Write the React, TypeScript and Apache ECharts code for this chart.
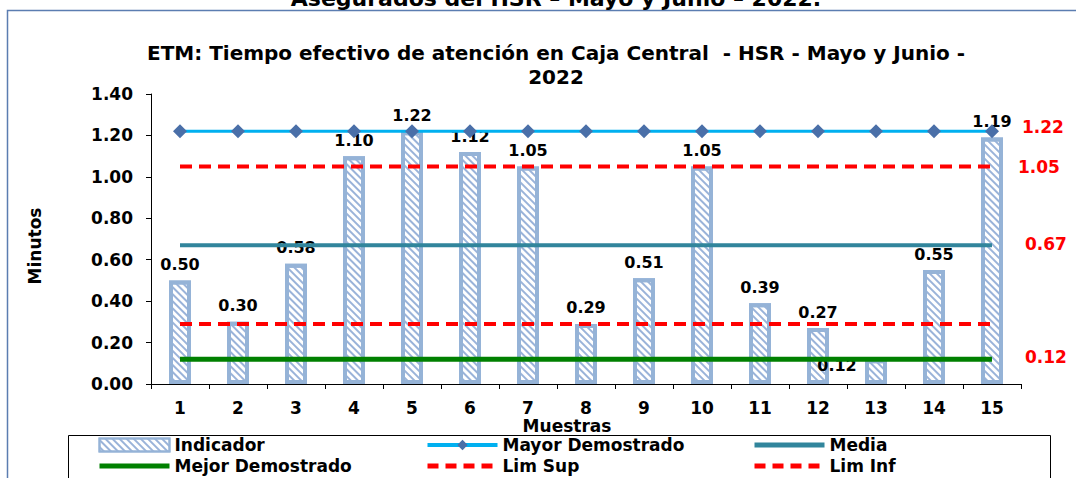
import React, { useEffect, useRef } from "react";
import * as echarts from "echarts";

const categories = ["1", "2", "3", "4", "5", "6", "7", "8", "9", "10", "11", "12", "13", "14", "15"];
const indicador = [0.5, 0.3, 0.58, 1.1, 1.22, 1.12, 1.05, 0.29, 0.51, 1.05, 0.39, 0.27, 0.12, 0.55, 1.19];
const mayorDemostrado = [1.22, 1.22, 1.22, 1.22, 1.22, 1.22, 1.22, 1.22, 1.22, 1.22, 1.22, 1.22, 1.22, 1.22, 1.22];
const media = [0.67, 0.67, 0.67, 0.67, 0.67, 0.67, 0.67, 0.67, 0.67, 0.67, 0.67, 0.67, 0.67, 0.67, 0.67];
const mejorDemostrado = [0.12, 0.12, 0.12, 0.12, 0.12, 0.12, 0.12, 0.12, 0.12, 0.12, 0.12, 0.12, 0.12, 0.12, 0.12];
const limSup = [1.05, 1.05, 1.05, 1.05, 1.05, 1.05, 1.05, 1.05, 1.05, 1.05, 1.05, 1.05, 1.05, 1.05, 1.05];
const limInf = [0.29, 0.29, 0.29, 0.29, 0.29, 0.29, 0.29, 0.29, 0.29, 0.29, 0.29, 0.29, 0.29, 0.29, 0.29];
const yMin = 0;
const yMax = 1.4;
const yInterval = 0.2;

const topTitle = "Asegurados del HSR – Mayo y Junio – 2022.";
const chartTitle = "ETM: Tiempo efectivo de atención en Caja Central  - HSR - Mayo y Junio -\n2022";
const xName = "Muestras";
const yName = "Minutos";

const F = "DejaVu Sans";

export default function App() {
  const ref = useRef<HTMLDivElement>(null);
  useEffect(() => {
    const chart = echarts.init(ref.current!, null, { renderer: "svg" });
    const endLbl = (dist: number, dy: number) => ({
      show: true,
      formatter: (p: any) => Number(p.value).toFixed(2),
      color: "#FF0000",
      fontFamily: F,
      fontWeight: "bold",
      fontSize: 17,
      distance: dist,
      offset: [0, dy],
    });
    const legendBase = {
      top: 435,
      height: 50,
      padding: 0,
      orient: "vertical",
      itemWidth: 70,
      itemHeight: 13,
      itemGap: 1,
      textStyle: { fontFamily: F, fontWeight: "bold", fontSize: 17, color: "#000", lineHeight: 20 },
    };
    const solidLeg = (name: string, color: string) => ({
      name,
      itemStyle: { opacity: 0 },
      lineStyle: { color, width: 5, type: "solid" },
    });
    const dashLeg = (name: string) => ({
      name,
      itemStyle: { opacity: 0 },
      lineStyle: { color: "#FF0000", width: 5, type: [11, 7] },
    });
    chart.setOption({
      animation: false,
      backgroundColor: "#FFFFFF",
      grid: { left: 151, right: 55, top: 94, bottom: 94 },
      graphic: [
        {
          type: "rect",
          shape: { x: 7.5, y: 10.5, width: 1080, height: 500 },
          style: { fill: "none", stroke: "#5B7DB1", lineWidth: 1.5 },
          z: -1,
        },
        {
          type: "text",
          x: 556,
          y: 9,
          style: {
            text: topTitle,
            fill: "#000",
            font: `bold 22px "${F}"`,
            textAlign: "center",
            textVerticalAlign: "bottom",
          },
        },
        {
          type: "text",
          x: 556,
          y: 41,
          style: {
            text: chartTitle,
            fill: "#000",
            font: `bold 20px "${F}"`,
            textAlign: "center",
            lineHeight: 24,
          },
        },
        {
          type: "text",
          x: 567,
          y: 426,
          style: {
            text: xName,
            fill: "#000",
            font: `bold 17px "${F}"`,
            textAlign: "center",
            textVerticalAlign: "middle",
          },
        },
        {
          type: "text",
          x: 35,
          y: 246,
          rotation: Math.PI / 2,
          style: {
            text: yName,
            fill: "#000",
            font: `bold 17px "${F}"`,
            textAlign: "center",
            textVerticalAlign: "middle",
          },
        },
        {
          type: "rect",
          shape: { x: 68.5, y: 435.5, width: 982, height: 60 },
          style: { fill: "none", stroke: "#000", lineWidth: 1 },
        },
      ],
      legend: [
        {
          ...legendBase,
          left: 97,
          data: [{ name: "Indicador", icon: "rect" }, solidLeg("Mejor Demostrado", "#008000")],
        },
        {
          ...legendBase,
          left: 425,
          data: [
            { name: "Mayor Demostrado", lineStyle: { color: "#00B0F0", width: 4 } },
            dashLeg("Lim Sup"),
          ],
        },
        {
          ...legendBase,
          left: 752,
          data: [solidLeg("Media", "#31859C"), dashLeg("Lim Inf")],
        },
      ],
      xAxis: {
        type: "category",
        data: categories,
        boundaryGap: true,
        axisLine: { lineStyle: { color: "#000", width: 1 } },
        axisTick: { show: true, length: 5, lineStyle: { color: "#000" } },
        axisLabel: { color: "#000", fontFamily: F, fontWeight: "bold", fontSize: 17, margin: 15 },
      },
      yAxis: {
        type: "value",
        min: yMin,
        max: yMax,
        interval: yInterval,
        axisLine: { show: true, lineStyle: { color: "#000", width: 1 } },
        axisTick: { show: true, length: 5, lineStyle: { color: "#000" } },
        splitLine: { show: false },
        axisLabel: {
          color: "#000", fontFamily: F, fontWeight: "bold", fontSize: 17, margin: 18,
          formatter: (v: number) => v.toFixed(2),
        },
      },
      series: [
        {
          name: "Indicador",
          type: "bar",
          barWidth: 22,
          z: 1,
          data: indicador.map((v, i) =>
            i === 12 ? { value: v, label: { offset: [-39, 22] } } : v
          ),
          itemStyle: {
            color: "#FFFFFF",
            borderColor: "#95B3D7",
            borderWidth: 4,
            decal: {
              symbol: "rect",
              symbolSize: 1,
              color: "#9AB3D9",
              dashArrayX: [1, 0],
              dashArrayY: [1.5, 3],
              rotation: Math.PI / 4,
            },
          },
          label: {
            show: true,
            position: "top",
            distance: 8,
            color: "#000",
            fontFamily: F,
            fontWeight: "bold",
            fontSize: 16,
            formatter: (p: any) => Number(p.value).toFixed(2),
          },
        },
        {
          name: "Mayor Demostrado",
          type: "line",
          z: 3,
          data: mayorDemostrado,
          symbol: "diamond",
          symbolSize: 14,
          itemStyle: { color: "#4A6FA8" },
          lineStyle: { color: "#00B0F0", width: 3 },
          endLabel: endLbl(30, -4),
        },
        {
          name: "Media",
          type: "line",
          z: 2,
          data: media,
          symbol: "none",
          itemStyle: { color: "#31859C" },
          lineStyle: { color: "#31859C", width: 4 },
          endLabel: endLbl(33, -1),
        },
        {
          name: "Mejor Demostrado",
          type: "line",
          z: 2,
          data: mejorDemostrado,
          symbol: "none",
          itemStyle: { color: "#008000" },
          lineStyle: { color: "#008000", width: 5 },
          endLabel: endLbl(33, -2),
        },
        {
          name: "Lim Sup",
          type: "line",
          z: 2,
          data: limSup,
          symbol: "none",
          itemStyle: { color: "#FF0000" },
          lineStyle: { color: "#FF0000", width: 4, type: [12, 7] },
          endLabel: endLbl(26, 0),
        },
        {
          name: "Lim Inf",
          type: "line",
          z: 2,
          data: limInf,
          symbol: "none",
          itemStyle: { color: "#FF0000" },
          lineStyle: { color: "#FF0000", width: 4, type: [12, 7] },
        },
      ],
    });
    return () => chart.dispose();
  }, []);
  return (
    <div
      ref={ref}
      style={{ position: "fixed", left: 0, top: 0, width: 1076, height: 478, background: "#fff" }}
    />
  );
}
